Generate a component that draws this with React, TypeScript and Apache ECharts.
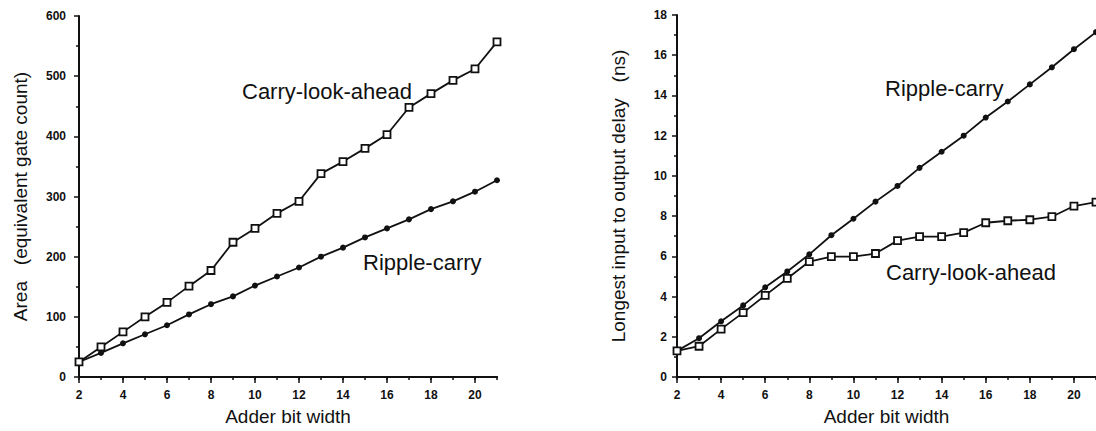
import React, { useEffect, useRef } from "react";
import * as echarts from "echarts";

const bits = [2, 3, 4, 5, 6, 7, 8, 9, 10, 11, 12, 13, 14, 15, 16, 17, 18, 19, 20, 21];
const areaRipple = [25, 40, 56, 71, 86, 104, 121, 134, 152, 167, 182, 200, 215, 232, 247, 262, 279, 292, 308, 327];
const areaCLA = [25, 50, 75, 100, 124, 151, 177, 224, 247, 272, 292, 338, 358, 380, 403, 448, 471, 493, 512, 557];
const delayRipple = [1.3, 1.93, 2.77, 3.56, 4.46, 5.25, 6.1, 7.05, 7.87, 8.72, 9.5, 10.4, 11.2, 12.0, 12.9, 13.7, 14.55, 15.4, 16.3, 17.15];
const delayCLA = [1.3, 1.53, 2.38, 3.2, 4.06, 4.9, 5.74, 5.99, 5.99, 6.14, 6.78, 6.98, 6.98, 7.18, 7.67, 7.77, 7.82, 7.97, 8.5, 8.7];

const xName = "Adder bit width";
const yNameLeft = "Area   (equivalent gate count)";
const yNameRight = "Longest input to output delay   (ns)";
const labelCLA = "Carry-look-ahead";
const labelRipple = "Ripple-carry";

const INK = "#111";
const FONT = "Liberation Sans, Arial, sans-serif";

function pairs(ys: number[]) {
  return bits.map((b, i) => [b, ys[i]]);
}

function minorX(gridIndex: number) {
  return {
    gridIndex,
    type: "value",
    min: 2,
    max: 21,
    interval: 1,
    position: "bottom",
    axisLine: { show: true, lineStyle: { color: INK, width: 2 } },
    axisTick: { show: true, length: 3, lineStyle: { color: INK, width: 1.5 } },
    axisLabel: { show: false },
    splitLine: { show: false },
  };
}

function majorX(gridIndex: number) {
  return {
    gridIndex,
    type: "value",
    min: 2,
    max: 21,
    interval: 2,
    position: "bottom",
    name: xName,
    nameLocation: "middle",
    nameGap: 30,
    nameTextStyle: { fontFamily: FONT, fontSize: 19, color: INK },
    axisLine: { show: true, lineStyle: { color: INK, width: 2 } },
    axisTick: { show: true, length: 6, lineStyle: { color: INK, width: 1.5 } },
    axisLabel: {
      show: true,
      margin: 12,
      showMaxLabel: false,
      fontFamily: FONT,
      fontWeight: "bold",
      fontSize: 12,
      color: INK,
      formatter: (v: number) => (v % 2 === 0 ? String(v) : ""),
    },
    splitLine: { show: false },
  };
}

function yAx(gridIndex: number, max: number, interval: number, name: string, margin: number) {
  return {
    gridIndex,
    type: "value",
    min: 0,
    max,
    interval,
    name,
    nameLocation: "middle",
    nameGap: 49,
    nameTextStyle: { fontFamily: FONT, fontSize: 19, color: INK },
    axisLine: { show: true, lineStyle: { color: INK, width: 2 } },
    axisTick: { show: true, length: 5, lineStyle: { color: INK, width: 1.5 } },
    minorTick: { show: true, splitNumber: 2, length: 3, lineStyle: { color: INK, width: 1.5 } },
    axisLabel: { margin, fontFamily: FONT, fontWeight: "bold", fontSize: 12, color: INK },
    splitLine: { show: false },
  };
}

function lineSeries(name: string, data: number[][], xi: number, yi: number, square: boolean) {
  return {
    name,
    type: "line",
    xAxisIndex: xi,
    yAxisIndex: yi,
    data,
    showSymbol: true,
    symbol: square ? "rect" : "circle",
    symbolSize: square ? 7 : 6,
    itemStyle: square
      ? { color: "#fff", borderColor: INK, borderWidth: 1.8 }
      : { color: INK, borderColor: INK, borderWidth: 0 },
    lineStyle: { color: INK, width: 1.8 },
  };
}

function annot(text: string, x: number, y: number) {
  return {
    type: "text",
    left: x,
    top: y,
    style: { text, fontFamily: FONT, fontSize: 22, fill: INK },
  };
}

export default function App() {
  const ref = useRef<HTMLDivElement>(null);
  useEffect(() => {
    if (!ref.current) return;
    const chart = echarts.init(ref.current, null, { renderer: "svg" });
    chart.setOption({
      animation: false,
      backgroundColor: "#fff",
      grid: [
        { left: 79, top: 16, width: 418, height: 362 },
        { left: 677, top: 15, width: 427, height: 364 },
      ],
      xAxis: [minorX(0), majorX(0), minorX(1), majorX(1)],
      yAxis: [yAx(0, 600, 100, yNameLeft, 13), yAx(1, 18, 2, yNameRight, 10)],
      series: [
        lineSeries("Ripple-carry area", pairs(areaRipple), 0, 0, false),
        lineSeries("Carry-look-ahead area", pairs(areaCLA), 0, 0, true),
        lineSeries("Ripple-carry delay", pairs(delayRipple), 2, 1, false),
        lineSeries("Carry-look-ahead delay", pairs(delayCLA), 2, 1, true),
      ],
      graphic: [
        annot(labelCLA, 242, 80),
        annot(labelRipple, 363, 251),
        annot(labelRipple, 885, 77),
        annot(labelCLA, 886, 261),
      ],
    });
    return () => chart.dispose();
  }, []);
  return (
    <div
      ref={ref}
      style={{ position: "fixed", left: 0, top: 0, width: 1096, height: 431, background: "#fff" }}
    />
  );
}
